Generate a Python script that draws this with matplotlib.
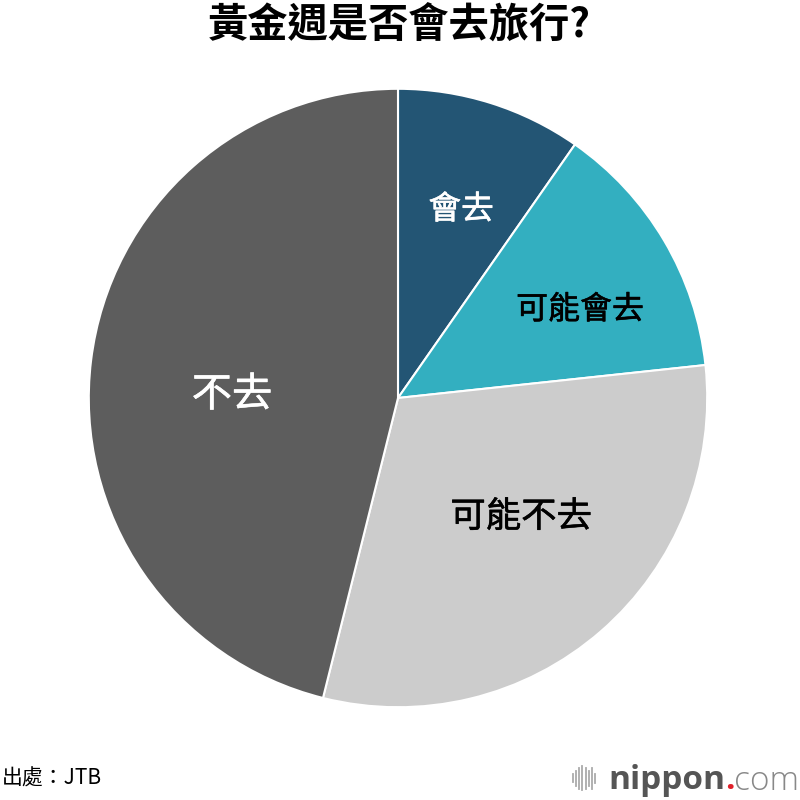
import matplotlib.pyplot as plt
import matplotlib.patheffects as pe
from matplotlib.lines import Line2D

plt.rcParams['font.family'] = ['Noto Sans CJK TC', 'DejaVu Sans']

# 資料
labels = ['會去', '可能會去', '可能不去', '不去']
values = [9.7, 13.6, 30.6, 46.1]
colors = ['#235574', '#33afc0', '#cccccc', '#5d5d5d']
text_colors = ['white', 'black', 'black', 'white']
label_sizes = [23.5, 23, 25.5, 29]
label_pos = [(0.204, 0.608), (0.589, 0.285), (0.398, -0.385), (-0.537, 0.01)]

fig = plt.figure(figsize=(8, 8), dpi=100)
r = 0.3865
ax = fig.add_axes([0.4975 - r, 0.5025 - r, 2 * r, 2 * r])
ax.pie(values, colors=colors, startangle=90, counterclock=False,
       wedgeprops=dict(edgecolor='white', linewidth=1.5), radius=1)
ax.set_xlim(-1, 1)
ax.set_ylim(-1, 1)
ax.set_aspect('equal')

# 標籤（略粗一點，模擬 Medium 字重）
for lab, (x, y), c, s in zip(labels, label_pos, text_colors, label_sizes):
    ax.text(x, y, lab, color=c, fontsize=s, ha='center', va='center',
            path_effects=[pe.withStroke(linewidth=0.4, foreground=c)])

fig.text(0.4995, 0.967, '黃金週是否會去旅行?', ha='center', va='center',
         fontsize=29, fontweight='bold')
fig.text(0.002, 0.027, '出處：JTB', ha='left', va='center', fontsize=15)

# nippon.com 標誌
bars = [0.010, 0.018, 0.026, 0.030, 0.026, 0.018, 0.026, 0.012]
for i, h in enumerate(bars):
    x = 0.716 + i * 0.0040
    fig.add_artist(Line2D([x, x], [0.027 - h / 2, 0.027 + h / 2],
                          color='#aaaaaa', linewidth=1.3))
t1 = fig.text(0.760, 0.024, 'nippon', ha='left', va='center', fontsize=24,
              color='#555555', fontweight='bold', family='Open Sans')
fig.canvas.draw()
bb = t1.get_window_extent().transformed(fig.transFigure.inverted())
t2 = fig.text(bb.x1, 0.024, '.', ha='left', va='center', fontsize=24,
              color='#e0202a', fontweight='bold', family='Open Sans')
bb2 = t2.get_window_extent().transformed(fig.transFigure.inverted())
fig.text(bb2.x1, 0.024, 'com', ha='left', va='center', fontsize=24,
         color='#888888', fontweight='light', family='Open Sans')

fig.savefig('out.png', dpi=100)
